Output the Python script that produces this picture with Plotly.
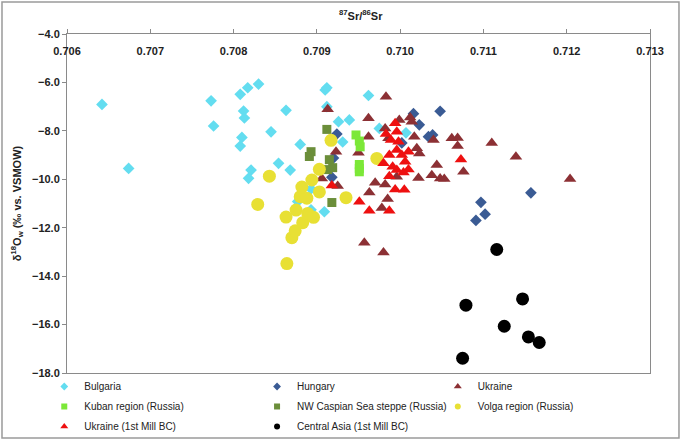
import plotly.graph_objects as go

# ---- data ----
bulgaria_x = [0.70642, 0.70674, 0.70773, 0.70776, 0.70808, 0.70817, 0.70830, 0.70812, 0.70813, 0.70863,
              0.70845, 0.70810, 0.70808, 0.70910, 0.70912, 0.70880, 0.70854, 0.70868, 0.70821, 0.70818,
              0.70926, 0.70939, 0.70931, 0.70962, 0.70912, 0.70893, 0.70909, 0.70893, 0.70877, 0.70975,
              0.71007]
bulgaria_y = [-6.91, -9.55, -6.76, -7.80, -6.49, -6.22, -6.07, -7.18, -7.47, -7.15,
              -8.04, -8.27, -8.63, -6.31, -6.22, -8.56, -9.34, -9.62, -9.62, -9.96,
              -7.62, -7.55, -8.46, -6.54, -7.00, -10.40, -11.34, -11.26, -10.92, -7.90,
              -8.08]

hungary_x = [0.70924, 0.70920, 0.70918, 0.71016, 0.71023, 0.71048, 0.71034, 0.71039, 0.71002,
             0.71157, 0.71097, 0.71102, 0.71091]
hungary_y = [-8.13, -9.12, -9.92, -7.29, -7.75, -7.19, -8.24, -8.17, -8.50,
             -10.56, -10.95, -11.44, -11.70]

ukraine_x = [0.70913, 0.70983, 0.70962, 0.70999, 0.71012, 0.71014, 0.70962, 0.71017, 0.71040, 0.71062,
             0.71069, 0.71069, 0.71110, 0.71139, 0.71204, 0.70923, 0.70950, 0.71020, 0.71023, 0.71044,
             0.71038, 0.71048, 0.71053, 0.71076, 0.71022, 0.70906, 0.70925, 0.70970, 0.70982, 0.70996,
             0.70963, 0.70985, 0.70978, 0.70957, 0.70980, 0.70986, 0.70982]
ukraine_y = [-7.11, -6.59, -7.48, -7.55, -7.45, -7.62, -8.24, -8.24, -8.38, -8.31,
             -8.29, -8.63, -8.50, -9.07, -9.99, -8.86, -8.90, -8.72, -8.93, -9.41,
             -9.83, -9.97, -9.99, -9.69, -9.95, -9.97, -10.28, -10.14, -10.22, -9.90,
             -10.55, -10.81, -11.19, -12.62, -13.02, -8.31, -7.90]

kuban_x = [0.70947, 0.70951, 0.70952, 0.70951, 0.70951, 0.70951]
kuban_y = [-8.17, -8.42, -8.66, -9.39, -9.55, -9.69]

caspian_x = [0.70912, 0.70893, 0.70891, 0.70915, 0.70919, 0.70913, 0.70918]
caspian_y = [-7.94, -8.86, -9.06, -9.19, -9.52, -9.60, -10.96]

volga_x = [0.70843, 0.70829, 0.70864, 0.70870, 0.70874, 0.70863, 0.70875, 0.70883, 0.70889, 0.70896,
           0.70880, 0.70888, 0.70882, 0.70894, 0.70903, 0.70903, 0.70917, 0.70935, 0.70972]
volga_y = [-9.87, -11.04, -13.48, -12.41, -12.13, -11.56, -11.27, -11.79, -11.41, -11.57,
           -10.72, -10.78, -10.32, -10.03, -9.59, -10.52, -8.39, -10.76, -9.14]

ukraine1_x = [0.70983, 0.70994, 0.70989, 0.70996, 0.70980, 0.70987, 0.70996, 0.71002, 0.71010, 0.71006,
              0.70996, 0.71010, 0.70987, 0.70991, 0.71004, 0.70994, 0.71005, 0.70951, 0.70963, 0.70987,
              0.70918, 0.71073, 0.70998]
ukraine1_y = [-8.13, -7.69, -8.38, -8.04, -9.34, -9.00, -8.79, -9.00, -8.86, -9.28,
              -9.62, -9.60, -9.87, -9.48, -9.72, -10.42, -10.43, -10.93, -11.30, -11.30,
              -10.26, -9.18, -8.45]

casia_x = [0.71116, 0.71079, 0.71147, 0.71125, 0.71154, 0.71167, 0.71075]
casia_y = [-12.90, -15.20, -14.94, -16.07, -16.51, -16.74, -17.39]

series_names = ["Bulgaria", "Hungary", "Ukraine", "Kuban region (Russia)",
                "NW Caspian Sea steppe (Russia)", "Volga region (Russia)",
                "Ukraine (1st Mill BC)", "Central Asia (1st Mill BC)"]

x_ticks = [0.706, 0.707, 0.708, 0.709, 0.710, 0.711, 0.712, 0.713]
y_ticks = [-4, -6, -8, -10, -12, -14, -16, -18]

x_title = "<b><sup>87</sup>Sr/<sup>86</sup>Sr</b>"
y_title = "<b>δ<sup>18</sup>O<sub>w</sub> (‰ vs. VSMOW)</b>"

# ---- styling ----
styles = [
    dict(symbol="diamond", color="#63DDF0", size=9, legend="legend"),
    dict(symbol="diamond", color="#3A5B94", size=9, legend="legend2"),
    dict(symbol="triangle-up", color="#8C3034", size=11, legend="legend3"),
    dict(symbol="square", color="#7CE838", size=9, legend="legend"),
    dict(symbol="square", color="#6B8E3A", size=9, legend="legend2"),
    dict(symbol="circle", color="#E8E034", size=13, legend="legend3"),
    dict(symbol="triangle-up", color="#EE1010", size=11, legend="legend"),
    dict(symbol="circle", color="#000000", size=13, legend="legend2"),
]
legend_sizes = [6, 6, 7, 6, 6, 6, 7, 6]

data = [(bulgaria_x, bulgaria_y), (hungary_x, hungary_y), (ukraine_x, ukraine_y),
        (kuban_x, kuban_y), (caspian_x, caspian_y), (volga_x, volga_y),
        (ukraine1_x, ukraine1_y), (casia_x, casia_y)]

fig = go.Figure()
for (xs, ys), name, st in zip(data, series_names, styles):
    fig.add_trace(go.Scatter(x=xs, y=ys, mode="markers", name=name, showlegend=False,
                             marker=dict(symbol=st["symbol"], color=st["color"], size=st["size"],
                                         line=dict(width=0))))
for i, (name, st, ls) in enumerate(zip(series_names, styles, legend_sizes)):
    fig.add_trace(go.Scatter(x=[None], y=[None], mode="markers", name=name, showlegend=True,
                             legend=st["legend"], legendgroup="g%d" % i,
                             marker=dict(symbol=st["symbol"], color=st["color"], size=ls,
                                         line=dict(width=0))))

FONT = "Liberation Sans, Arial, sans-serif"
leg_common = dict(orientation="v", yanchor="top", xanchor="left", bgcolor="rgba(0,0,0,0)",
                  font=dict(family=FONT, size=10, color="#222"), tracegroupgap=1,
                  itemwidth=30)

fig.update_layout(
    width=682, height=441,
    margin=dict(l=67, r=32, t=34, b=68, autoexpand=False),
    paper_bgcolor="white", plot_bgcolor="white",
    font=dict(family=FONT, color="#222"),
    xaxis=dict(range=[0.706, 0.713], side="top", tickvals=x_ticks, tickformat=".3f",
               ticklabelposition="inside", ticklabeloverflow="allow", ticklabelstandoff=13,
               automargin=False,
               showgrid=False, zeroline=False, showline=True, linecolor="#8a8a8a", linewidth=1,
               mirror=True, ticks="outside", ticklen=4, tickcolor="#8a8a8a",
               tickfont=dict(family=FONT, size=11, color="#222", weight="bold")),
    yaxis=dict(range=[-18, -4], tickvals=y_ticks, tickformat=".1f", automargin=False,
               ticklabeloverflow="allow",
               showgrid=False, zeroline=False, showline=True, linecolor="#8a8a8a", linewidth=1,
               mirror=True, ticks="outside", ticklen=4, tickcolor="#8a8a8a",
               tickfont=dict(family=FONT, size=11, color="#222", weight="bold"),
               title=dict(text=y_title,
                          font=dict(family=FONT, size=11, color="#222"), standoff=8)),
    legend=dict(x=-0.039, y=0.003, **leg_common),
    legend2=dict(x=0.326, y=0.003, **leg_common),
    legend3=dict(x=0.636, y=0.003, **leg_common),
    annotations=[dict(text=x_title, xref="paper", yref="paper", x=0.504, y=1.056,
                      xanchor="center", yanchor="middle", showarrow=False,
                      font=dict(family=FONT, size=11, color="#222"))],
    shapes=[dict(type="rect", xref="paper", yref="paper", x0=-0.1115, x1=1.0497,
                 y0=-0.1917, y1=1.0944, line=dict(color="#9a9a9a", width=1.5),
                 fillcolor="rgba(0,0,0,0)", layer="below")],
)

fig.write_html("out.html", config={"displayModeBar": False},
               post_script="document.body.style.margin='0px';")
